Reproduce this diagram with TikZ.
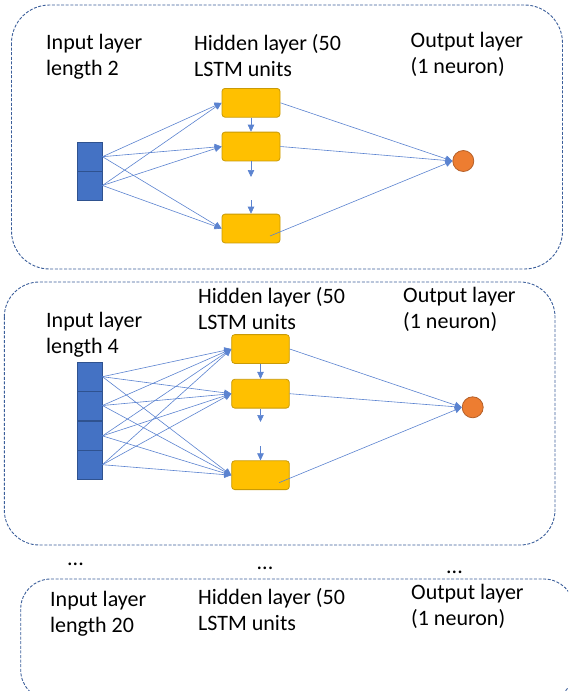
\documentclass[tikz,border=0pt]{standalone}
\usepackage{fontspec}
\setmainfont{Carlito}
\usetikzlibrary{arrows.meta}
\definecolor{cellblue}{HTML}{4472C4}
\definecolor{cellborder}{HTML}{2F528F}
\definecolor{boxgold}{HTML}{FFC000}
\definecolor{boxborder}{HTML}{C99A06}
\definecolor{outorange}{HTML}{ED7D31}
\definecolor{outborder}{HTML}{B5602A}
\definecolor{linkblue}{HTML}{5B83D0}
\definecolor{panelline}{HTML}{3B5E9A}
\tikzset{
  panel/.style={draw=panelline, line width=0.9pt, dash pattern=on 3pt off 1.6pt},
  cellbox/.style={rectangle, draw=cellborder, fill=cellblue, line width=0.8pt, minimum width=24.7pt, minimum height=28.8pt, inner sep=0pt},
  lstmbox/.style={rectangle, rounded corners=3pt, draw=boxborder, fill=boxgold, line width=0.8pt, minimum width=58pt, minimum height=28.8pt, inner sep=0pt},
  outnode/.style={circle, draw=outborder, fill=outorange, line width=0.8pt, minimum size=21pt, inner sep=0pt},
  conn/.style={draw=linkblue, line width=0.6pt, -{Triangle[length=7pt,width=6.5pt]}},
  lbl/.style={anchor=base west, inner sep=0pt, font=\fontsize{22}{26}\selectfont, text=black},
}
\begin{document}
\begin{tikzpicture}[x=1pt,y=-1pt]
\useasboundingbox (0,0) rectangle (568,691);
\clip (0,0) rectangle (568,691);

% ---------- panel 1 ----------
\draw[panel, rounded corners=38pt] (11.5,5) rectangle (562.5,269);
\node[lbl] (t1a) at (46,49.5) {Input layer};
\node[lbl] (t1b) at (46,75.5) {length 2};
\node[lbl] (t1c) at (194,50.5) {Hidden layer (50};
\node[lbl] (t1d) at (194,76.5) {LSTM units};
\node[lbl] (t1e) at (410.5,47.5) {Output layer};
\node[lbl] (t1f) at (410.5,73.5) {(1 neuron)};

\node[cellbox] (p1c1) at (89.7,156.7) {};
\node[cellbox] (p1c2) at (89.7,185.5) {};
\node[lstmbox] (p1h1) at (251,102.8) {};
\node[lstmbox] (p1h2) at (251,146.5) {};
\node[lstmbox] (p1h3) at (251,228.5) {};
\node[outnode] (p1o) at (463.3,161) {};
\coordinate (p1v1) at (251,177);
\coordinate (p1v2) at (251,200);
\coordinate (p1s3) at (270,236);

\foreach \c in {p1c1,p1c2}
  \foreach \h in {p1h1,p1h2,p1h3}
    \draw[conn] (\c.east) -- (\h.west);
\draw[conn] (p1h1.south) -- (p1h2.north);
\draw[conn] (p1h2.south) -- (p1v1);
\draw[conn] (p1v2) -- (p1h3.north);
\draw[conn] (p1h1.east) -- (p1o.west);
\draw[conn] (p1h2.east) -- (p1o.west);
\draw[conn] (p1s3) -- (p1o.west);

% ---------- panel 2 ----------
\draw[panel, rounded corners=35pt] (4.3,282) rectangle (555,545);
\node[lbl] (t2a) at (46,327) {Input layer};
\node[lbl] (t2b) at (46,353) {length 4};
\node[lbl] (t2c) at (198,303.5) {Hidden layer (50};
\node[lbl] (t2d) at (198,329.5) {LSTM units};
\node[lbl] (t2e) at (403,302) {Output layer};
\node[lbl] (t2f) at (403,328) {(1 neuron)};

\node[cellbox] (p2c1) at (89.7,376.7) {};
\node[cellbox] (p2c2) at (89.7,405.5) {};
\node[cellbox] (p2c3) at (89.7,435.9) {};
\node[cellbox] (p2c4) at (89.7,464.7) {};
\node[lstmbox, minimum width=57.6pt] (p2h1) at (260.5,349) {};
\node[lstmbox, minimum width=57.6pt] (p2h2) at (260.5,393.7) {};
\node[lstmbox, minimum width=57.6pt] (p2h3) at (260.5,475.2) {};
\node[outnode] (p2o) at (472.7,407.3) {};
\coordinate (p2v1) at (260.5,422);
\coordinate (p2v2) at (260.5,446);
\coordinate (p2s3) at (279,482.7);

\foreach \c in {p2c1,p2c2,p2c3,p2c4}
  \foreach \h in {p2h1,p2h2,p2h3}
    \draw[conn] (\c.east) -- (\h.west);
\draw[conn] (p2h1.south) -- (p2h2.north);
\draw[conn] (p2h2.south) -- (p2v1);
\draw[conn] (p2v2) -- (p2h3.north);
\draw[conn] (p2h1.east) -- (p2o.west);
\draw[conn] (p2h2.east) -- (p2o.west);
\draw[conn] (p2s3) -- (p2o.west);

% ---------- dots ----------
\node[lbl] (d1) at (67,565) {...};
\node[lbl] (d2) at (256.5,569) {...};
\node[lbl] (d3) at (446,573.5) {...};

% ---------- panel 3 ----------
\draw[panel, rounded corners=30pt] (20.7,579) rectangle (574,700);
\node[lbl] (t3a) at (50,606) {Input layer};
\node[lbl] (t3b) at (50,632) {length 20};
\node[lbl] (t3c) at (198,604) {Hidden layer (50};
\node[lbl] (t3d) at (198,630) {LSTM units};
\node[lbl] (t3e) at (411,599.5) {Output layer};
\node[lbl] (t3f) at (411,625.5) {(1 neuron)};
\end{tikzpicture}
\end{document}
